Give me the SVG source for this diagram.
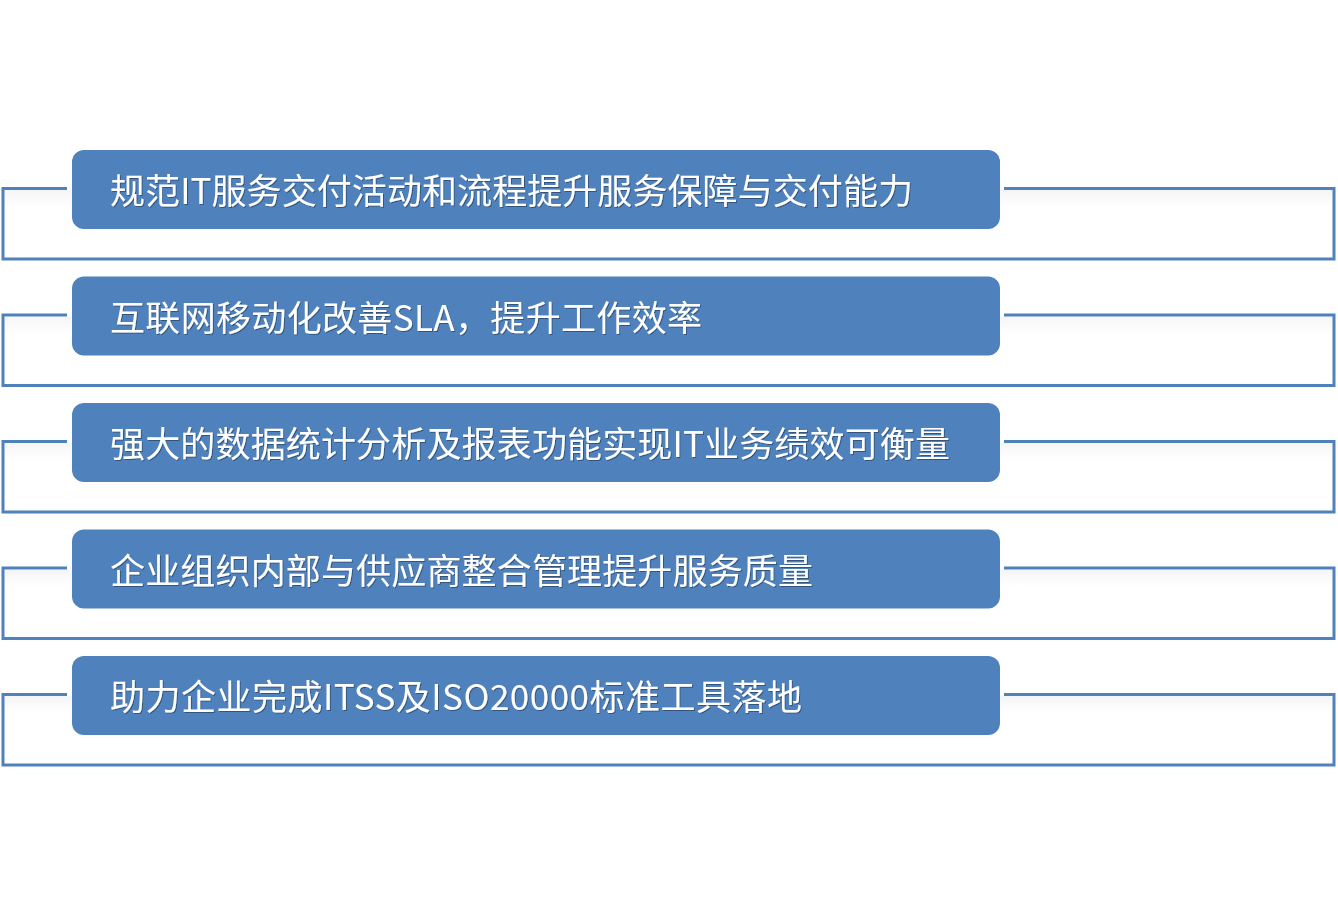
<svg xmlns="http://www.w3.org/2000/svg" width="1338" height="914" viewBox="0 0 1338 914">
<defs>
<linearGradient id="band" x1="0" y1="0" x2="0" y2="1">
<stop offset="0" stop-color="#f5f5f5"/>
<stop offset="1" stop-color="#ffffff"/>
</linearGradient>
<filter id="ts" x="-5%" y="-20%" width="110%" height="140%">
<feDropShadow dx="1" dy="1" stdDeviation="0.6" flood-color="#000" flood-opacity="0.35"/>
</filter>
</defs>
<style>
.frame{fill:none;stroke:#4F81BD;stroke-width:3}
.band{fill:url(#band)}
.box{fill:#4F81BD}
.lbl{fill:#ffffff;font-family:"Noto Sans CJK SC","Noto Sans",sans-serif;font-size:35px;filter:url(#ts)}
</style>
<rect width="1338" height="914" fill="#ffffff"/>
<g id="connectors">
<rect class="band" x="4.5" y="190" width="1328" height="17"/>
<path class="frame" d="M67,188.5 H3 V259 H1334 V188.5 H1004"/>
<rect class="band" x="4.5" y="316.5" width="1328" height="17"/>
<path class="frame" d="M67,315 H3 V385.5 H1334 V315 H1004"/>
<rect class="band" x="4.5" y="443" width="1328" height="17"/>
<path class="frame" d="M67,441.5 H3 V512 H1334 V441.5 H1004"/>
<rect class="band" x="4.5" y="569.5" width="1328" height="17"/>
<path class="frame" d="M67,568 H3 V638.5 H1334 V568 H1004"/>
<rect class="band" x="4.5" y="696" width="1328" height="17"/>
<path class="frame" d="M67,694.5 H3 V765 H1334 V694.5 H1004"/>
</g>
<g id="node1">
<rect class="box" x="72" y="150" width="928" height="79" rx="12"/>
<text class="lbl" x="110" y="204" textLength="803" lengthAdjust="spacing">规范IT服务交付活动和流程提升服务保障与交付能力</text>
</g>
<g id="node2">
<rect class="box" x="72" y="276.5" width="928" height="79" rx="12"/>
<text class="lbl" x="110" y="330.5" textLength="592" lengthAdjust="spacing">互联网移动化改善SLA，提升工作效率</text>
</g>
<g id="node3">
<rect class="box" x="72" y="403" width="928" height="79" rx="12"/>
<text class="lbl" x="110" y="457" textLength="840" lengthAdjust="spacing">强大的数据统计分析及报表功能实现IT业务绩效可衡量</text>
</g>
<g id="node4">
<rect class="box" x="72" y="529.5" width="928" height="79" rx="12"/>
<text class="lbl" x="110" y="583.5" textLength="703" lengthAdjust="spacing">企业组织内部与供应商整合管理提升服务质量</text>
</g>
<g id="node5">
<rect class="box" x="72" y="656" width="928" height="79" rx="12"/>
<text class="lbl" x="110" y="710" textLength="692" lengthAdjust="spacing">助力企业完成ITSS及ISO20000标准工具落地</text>
</g>
</svg>
